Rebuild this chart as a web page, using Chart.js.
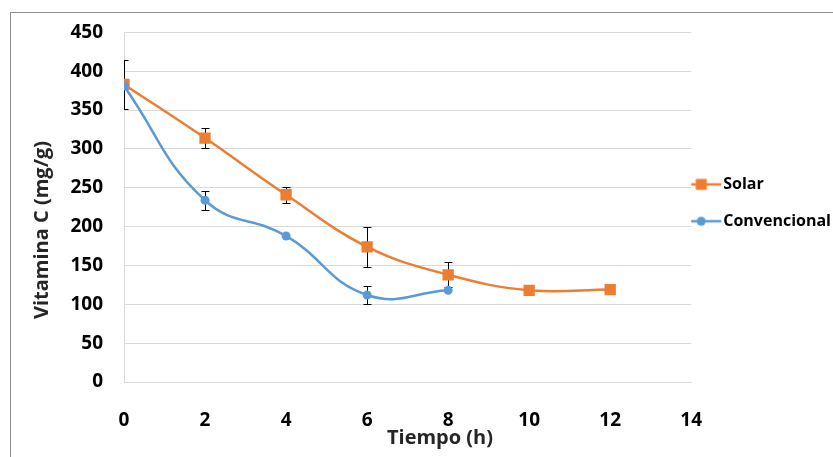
<!DOCTYPE html>
<html>
<head>
<meta charset="utf-8">
<script src="https://cdn.jsdelivr.net/npm/chart.js@4.4.0/dist/chart.umd.min.js"></script>
<style>
  html, body { margin: 0; padding: 0; background: #fff; overflow: hidden; }
  #marco { position: absolute; left: 10px; top: 12px; width: 900px; height: 500px; border: 1px solid #8c8c8c; }
  #caja { position: absolute; left: 0; top: 0; width: 841px; height: 457px; }
</style>
</head>
<body>
<div id="marco"></div>
<div id="caja"><canvas id="grafico"></canvas></div>
<script>
// datos
var tiempo = [0, 2, 4, 6, 8, 10, 12];
var tiempoConv = [0, 2, 4, 6, 8];
var solar = [383, 314, 241, 174, 138, 118, 119];
var solarErr = [32, 13, 10, 26, 16, 0, 0];
var convencional = [381, 234, 188, 112, 118];
var convErr = [0, 12, 0, 12, 0];
var ticksX = [0, 2, 4, 6, 8, 10, 12, 14];
var ticksY = [0, 50, 100, 150, 200, 250, 300, 350, 400, 450];

var naranja = "#ED7D31";
var azul = "#5B9BD5";
var fuente = "'Open Sans', 'Liberation Sans', sans-serif";

function puntos(xs, ys){
    var arr = [];
    for (var i = 0; i < xs.length; i++) {
        arr.push({x: xs[i], y: ys[i]});
    }
    return arr;
}

// icono de leyenda: linea + marcador (con hueco a la derecha para alinear el texto)
function iconoLeyenda(color, tipo){
    var c = document.createElement("canvas");
    c.width = 56;
    c.height = 14;
    var ctx = c.getContext("2d");
    ctx.strokeStyle = color;
    ctx.lineWidth = 2.5;
    ctx.beginPath();
    ctx.moveTo(0, 7);
    ctx.lineTo(40, 7);
    ctx.stroke();
    ctx.fillStyle = color;
    if (tipo == "rect") {
        ctx.fillRect(14.5, 1.5, 11, 11);
    } else {
        ctx.beginPath();
        ctx.arc(20, 7, 4.5, 0, Math.PI * 2);
        ctx.fill();
    }
    return c;
}

// barras de error
var barrasError = {
    id: "barrasError",
    beforeDatasetsDraw: function(chart){
        var ctx = chart.ctx;
        var xs = chart.scales.x, ys = chart.scales.y;
        var area = chart.chartArea;
        ctx.save();
        ctx.beginPath();
        ctx.rect(area.left, area.top, area.right - area.left, area.bottom - area.top);
        ctx.clip();
        ctx.strokeStyle = "#000";
        ctx.lineWidth = 1;
        chart.data.datasets.forEach(function(ds){
            if (!ds.errores) return;
            ds.data.forEach(function(p, i){
                var e = ds.errores[i];
                if (!e) return;
                var px = Math.round(xs.getPixelForValue(p.x)) + 0.5;
                var y1 = Math.round(ys.getPixelForValue(p.y + e)) + 0.5;
                var y2 = Math.round(ys.getPixelForValue(p.y - e)) + 0.5;
                ctx.beginPath();
                ctx.moveTo(px, y1); ctx.lineTo(px, y2);
                ctx.moveTo(px - 4, y1); ctx.lineTo(px + 4, y1);
                ctx.moveTo(px - 4, y2); ctx.lineTo(px + 4, y2);
                ctx.stroke();
            });
        });
        ctx.restore();
    }
};

// titulos de ejes (centrados sobre el area total del grafico, como en Excel)
var titulosEjes = {
    id: "titulosEjes",
    afterDraw: function(chart){
        var ctx = chart.ctx;
        ctx.save();
        ctx.fillStyle = "#262626";
        ctx.font = "bold 20px " + fuente;
        ctx.textAlign = "center";
        ctx.textBaseline = "middle";
        ctx.fillText("Tiempo (h)", 440, 438);
        ctx.translate(42, 230);
        ctx.rotate(-Math.PI / 2);
        ctx.fillText("Vitamina C (mg/g)", 0, 0);
        ctx.restore();
    }
};

var ctx = document.getElementById("grafico");

new Chart(ctx, {
    type: 'line',
    data: {
        datasets: [{
            label: "Conv",
            data: puntos(tiempoConv, convencional),
            errores: convErr,
            borderColor: azul,
            backgroundColor: azul,
            borderWidth: 2.5,
            pointStyle: 'circle',
            pointRadius: 4.5,
            pointBorderWidth: 0,
            tension: 0.45,
            fill: false,
            order: 1
        }, {
            label: "Solar",
            data: puntos(tiempo, solar),
            errores: solarErr,
            borderColor: naranja,
            backgroundColor: naranja,
            borderWidth: 2.5,
            pointStyle: 'rect',
            pointRadius: 8,
            pointBorderWidth: 0,
            tension: 0.4,
            fill: false,
            order: 2
        }]
    },
    options: {
        responsive: true,
        maintainAspectRatio: false,
        animation: false,
        layout: { padding: { left: 0, top: 32, right: 0, bottom: 0 } },
        scales: {
            x: {
                type: 'linear',
                min: 0,
                max: 14,
                afterBuildTicks: function(s){ s.ticks = ticksX.map(function(v){ return {value: v}; }); },
                afterFit: function(s){ s.height = 75; },
                grid: { display: false },
                border: { display: true, color: "#d9d9d9", width: 1 },
                ticks: { color: "#000", padding: 19, font: { family: fuente, size: 19, weight: 'bold' } }
            },
            y: {
                min: 0,
                max: 450,
                afterBuildTicks: function(s){ s.ticks = ticksY.map(function(v){ return {value: v}; }); },
                afterFit: function(s){ s.width = 124; },
                grid: { color: "#d9d9d9", drawTicks: false },
                border: { display: true, color: "#d9d9d9", width: 1 },
                ticks: { color: "#000", padding: 21, font: { family: fuente, size: 19, weight: 'bold' } }
            }
        },
        plugins: {
            tooltip: { enabled: false },
            legend: {
                position: 'right',
                fullSize: false,
                maxWidth: 150,
                labels: {
                    usePointStyle: true,
                    pointStyleWidth: 12,
                    padding: 12,
                    color: "#000",
                    font: { family: fuente, size: 16, weight: 'bold', lineHeight: 1.55 },
                    generateLabels: function(chart){
                        return [
                            { text: ["Solar"], pointStyle: iconoLeyenda(naranja, "rect"), fillStyle: naranja, strokeStyle: naranja, lineWidth: 0, datasetIndex: 1 },
                            { text: ["Convencional"], pointStyle: iconoLeyenda(azul, "circle"), fillStyle: azul, strokeStyle: azul, lineWidth: 0, datasetIndex: 0 }
                        ];
                    }
                }
            }
        }
    },
    plugins: [barrasError, titulosEjes]
});
</script>
</body>
</html>
